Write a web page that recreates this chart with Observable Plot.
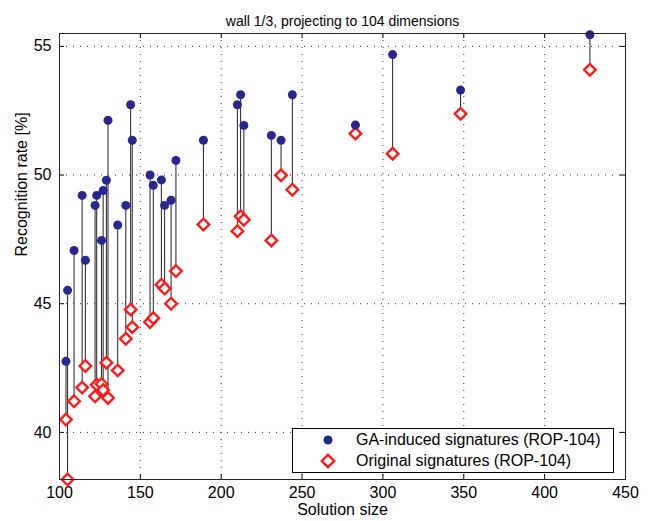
<!DOCTYPE html>
<html>
<head>
<meta charset="utf-8">
<script src="https://cdn.jsdelivr.net/npm/d3@7"></script>
<script src="https://cdn.jsdelivr.net/npm/@observablehq/plot@0.6"></script>
<style>
  body { margin: 0; background: #fff; }
  #wrap { position: relative; width: 650px; height: 521px; font-family: "Liberation Sans", Arial, Helvetica, sans-serif; }
  #legend { position: absolute; left: 292px; top: 428px; width: 320px; height: 43px; border: 1px solid #000; background: #fff; font-size: 16px; }
  #legend .row { position: absolute; left: 0; height: 20px; }
  #legend svg { position: absolute; left: 27px; }
  #legend span { position: absolute; left: 63px; white-space: nowrap; color: #000; line-height: 20px; }
</style>
</head>
<body>
<div id="wrap"></div>
<script>
const titleText = "wall 1/3, projecting to 104 dimensions";
const xLabel = "Solution size";
const yLabel = "Recognition rate [%]";
const seriesNames = ["GA-induced signatures (ROP-104)", "Original signatures (ROP-104)"];

const xTicks = [100, 150, 200, 250, 300, 350, 400, 450];
const yTicks = [40, 45, 50, 55];

const solutionSize = [104, 105, 109, 114, 116, 122, 123, 126, 127, 129, 130, 136, 141, 144, 145, 156, 158, 163, 165, 169, 172, 189, 210, 212, 214, 231, 237, 244, 283, 306, 348, 428];
const gaRate = [42.76, 45.52, 47.07, 49.21, 46.69, 48.82, 49.21, 47.46, 49.40, 49.80, 52.13, 48.06, 48.82, 52.73, 51.35, 50.00, 49.60, 49.81, 48.82, 49.02, 50.57, 51.35, 52.73, 53.12, 51.93, 51.54, 51.35, 53.12, 51.94, 54.68, 53.30, 55.45];
const origRate = [40.50, 38.17, 41.21, 41.74, 42.58, 41.40, 41.85, 41.88, 41.64, 42.71, 41.34, 42.41, 43.64, 44.77, 44.09, 44.29, 44.44, 45.74, 45.59, 45.00, 46.27, 48.08, 47.82, 48.40, 48.26, 47.46, 49.99, 49.43, 51.61, 50.83, 52.38, 54.09];

const data = solutionSize.map((s, i) => ({size: s, ga: gaRate[i], orig: origRate[i]}));

const W = 650, H = 521;
const mL = 59, mR = 25, mT = 33, mB = 42;
const frameH = H - mT - mB, frameW = W - mL - mR;
const tickLen = 5;
const gridStyle = {stroke: "#333", strokeWidth: 1, strokeDasharray: "1,6"};
const blue = "#27278f";
const red = "#ff1a1a";

const chart = Plot.plot({
  width: W, height: H,
  marginLeft: mL, marginRight: mR, marginTop: mT, marginBottom: mB,
  style: {fontFamily: '"Liberation Sans", Arial, Helvetica, sans-serif', fontSize: "16px", color: "#000", background: "#fff"},
  x: {domain: [100, 450], ticks: xTicks, tickSize: 0, tickPadding: 7, label: null, tickFormat: d3.format("d")},
  y: {domain: [38.17, 55.5], ticks: yTicks, tickSize: 0, tickPadding: 8, label: null, tickFormat: d3.format("d")},
  marks: [
    Plot.ruleX(xTicks, {x: d => d, ...gridStyle}),
    Plot.ruleY(yTicks, {y: d => d, ...gridStyle}),
    Plot.tickX(xTicks, {x: d => d, stroke: "#000", insetTop: frameH - tickLen}),
    Plot.tickX(xTicks, {x: d => d, stroke: "#000", insetBottom: frameH - tickLen}),
    Plot.tickY(yTicks, {y: d => d, stroke: "#000", insetRight: frameW - tickLen}),
    Plot.tickY(yTicks, {y: d => d, stroke: "#000", insetLeft: frameW - tickLen}),
    Plot.ruleX(data, {x: "size", y1: "orig", y2: "ga", stroke: "#222", strokeWidth: 1}),
    Plot.dot(data, {x: "size", y: "orig", symbol: "diamond2", r: 5.2, stroke: red, strokeWidth: 2.4, fill: "#fff"}),
    Plot.dot(data, {x: "size", y: "ga", r: 4.5, fill: blue, stroke: "none"}),
    Plot.frame({stroke: "#222"}),
    Plot.text([titleText], {frameAnchor: "top", dy: -17, fontSize: "14px", fill: "#000"}),
    Plot.text([xLabel], {frameAnchor: "bottom", dy: 35, fontSize: "16px", fill: "#000"}),
    Plot.text([yLabel], {frameAnchor: "left", dx: -38, rotate: -90, fontSize: "16px", fill: "#000"})
  ]
});
const wrap = document.getElementById("wrap");
wrap.appendChild(chart);

const legend = document.createElement("div");
legend.id = "legend";
legend.innerHTML = `
  <div class="row" style="top:1px;width:100%">
    <svg width="16" height="20" style="top:0"><circle cx="8" cy="10" r="4.5" fill="${blue}"/></svg>
    <span style="top:0">${seriesNames[0]}</span>
  </div>
  <div class="row" style="top:22px;width:100%">
    <svg width="16" height="20" style="top:0"><path d="M8,3.8L14.2,10L8,16.2L1.8,10Z" fill="#fff" stroke="${red}" stroke-width="2.4"/></svg>
    <span style="top:0">${seriesNames[1]}</span>
  </div>`;
wrap.appendChild(legend);
</script>
</body>
</html>
